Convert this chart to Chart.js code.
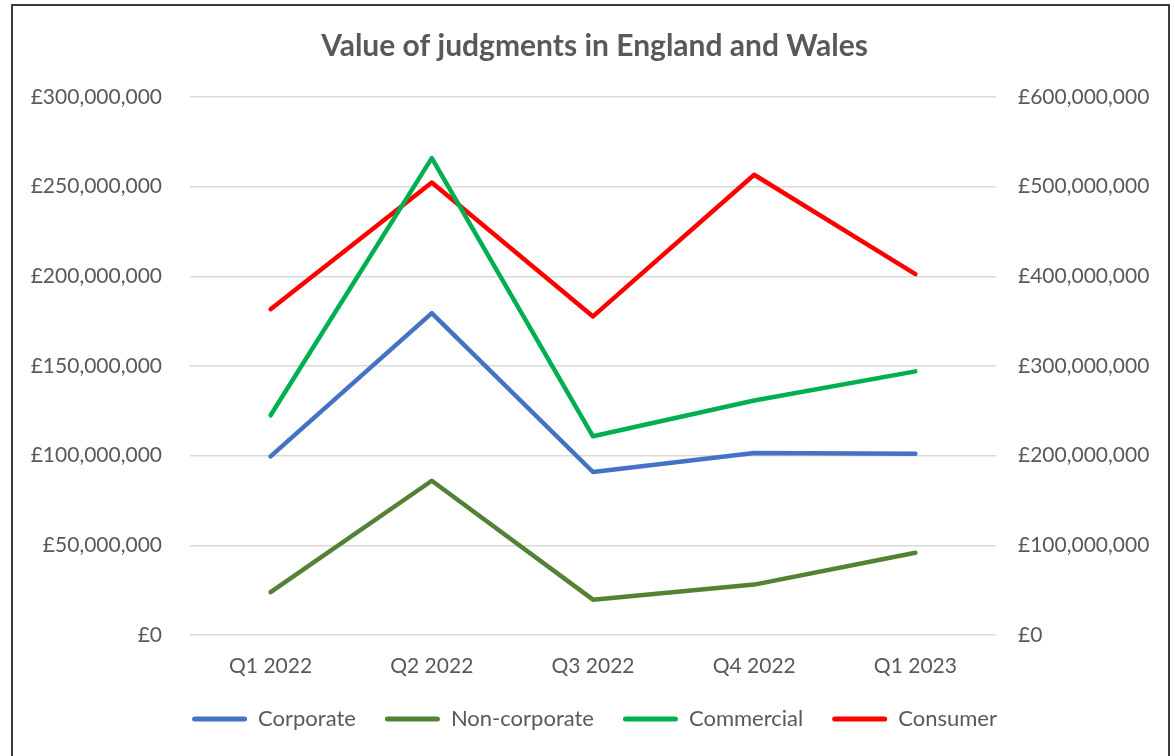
<!DOCTYPE html>
<html>
<head>
<meta charset="utf-8">
<script src="https://cdn.jsdelivr.net/npm/chart.js@4"></script>
<style>
  body { margin: 0; background: #fff; }
  #wrap { position: relative; width: 1175px; height: 756px; overflow: hidden; }
  #frame { position: absolute; left: 11px; top: 4px; width: 1155px; height: 800px; border: 2px solid #3a3a3a; pointer-events: none; }
</style>
</head>
<body>
<div id="wrap">
  <canvas id="myChart" width="1175" height="756"></canvas>
  <div id="frame"></div>
</div>
<script>
// values in pounds
const quarters = ['Q1 2022', 'Q2 2022', 'Q3 2022', 'Q4 2022', 'Q1 2023'];
const corporate = [99600000, 179500000, 90900000, 101500000, 101100000];
const nonCorporate = [23900000, 86000000, 19700000, 28100000, 45900000];
const commercial = [122500000, 265900000, 110800000, 130800000, 147000000];
const consumer = [363400000, 504700000, 355300000, 513300000, 402500000]; // right axis

const textColor = '#595959';
const fontFamily = 'Lato, "Open Sans", sans-serif';

function pounds(v) {
    return '£' + Number(v).toLocaleString('en-GB');
}

function series(label, data, color, axis) {
    return {
        label: label,
        data: data,
        yAxisID: axis,
        borderColor: color,
        backgroundColor: color,
        borderWidth: 4.5,
        pointRadius: 0,
        pointHoverRadius: 0,
        borderJoinStyle: 'round',
        borderCapStyle: 'round',
        tension: 0
    };
}

const ctx = document.getElementById('myChart').getContext('2d');
const chart = new Chart(ctx, {
    type: 'line',
    data: {
        labels: quarters,
        datasets: [
            series('Corporate', corporate, '#4472C4', 'y'),
            series('Non-corporate', nonCorporate, '#548235', 'y'),
            series('Commercial', commercial, '#00B050', 'y'),
            series('Consumer', consumer, '#FF0000', 'y1')
        ]
    },
    options: {
        responsive: false,
        animation: false,
        layout: { padding: { top: 18, bottom: 16, left: 14, right: 0 } },
        plugins: {
            tooltip: { enabled: false },
            title: {
                display: true,
                text: 'Value of judgments in England and Wales',
                color: textColor,
                font: { family: fontFamily, size: 30, weight: 'bold' },
                padding: { top: 10, bottom: 33 }
            },
            legend: {
                position: 'bottom',
                labels: {
                    color: textColor,
                    font: { family: fontFamily, size: 22 },
                    boxWidth: 55,
                    boxHeight: 5,
                    padding: 29,
                    generateLabels: function(c) {
                        const items = Chart.defaults.plugins.legend.labels.generateLabels(c);
                        return items.map(function(it) {
                            it.lineWidth = 0;
                            it.fillStyle = it.strokeStyle;
                            it.borderRadius = 2.5;
                            return it;
                        });
                    }
                }
            }
        },
        scales: {
            x: {
                offset: true,
                grid: { display: false, drawTicks: false },
                border: { display: false },
                ticks: { color: textColor, font: { family: fontFamily, size: 21 }, padding: 18.4 },
                afterFit: function(scale) { scale.height = 44; }
            },
            y: {
                position: 'left',
                min: 0,
                max: 300000000,
                grid: { color: '#d9d9d9', lineWidth: 1.5, drawTicks: false },
                border: { display: false },
                ticks: {
                    stepSize: 50000000,
                    color: textColor,
                    font: { family: fontFamily, size: 21 },
                    padding: 28,
                    callback: pounds
                },
                afterFit: function(scale) { scale.width = 176; }
            },
            y1: {
                position: 'right',
                min: 0,
                max: 600000000,
                grid: { display: false, drawTicks: false },
                border: { display: false },
                ticks: {
                    stepSize: 100000000,
                    color: textColor,
                    font: { family: fontFamily, size: 21 },
                    padding: 22,
                    callback: pounds
                },
                afterFit: function(scale) { scale.width = 179; }
            }
        }
    }
});
</script>
</body>
</html>
